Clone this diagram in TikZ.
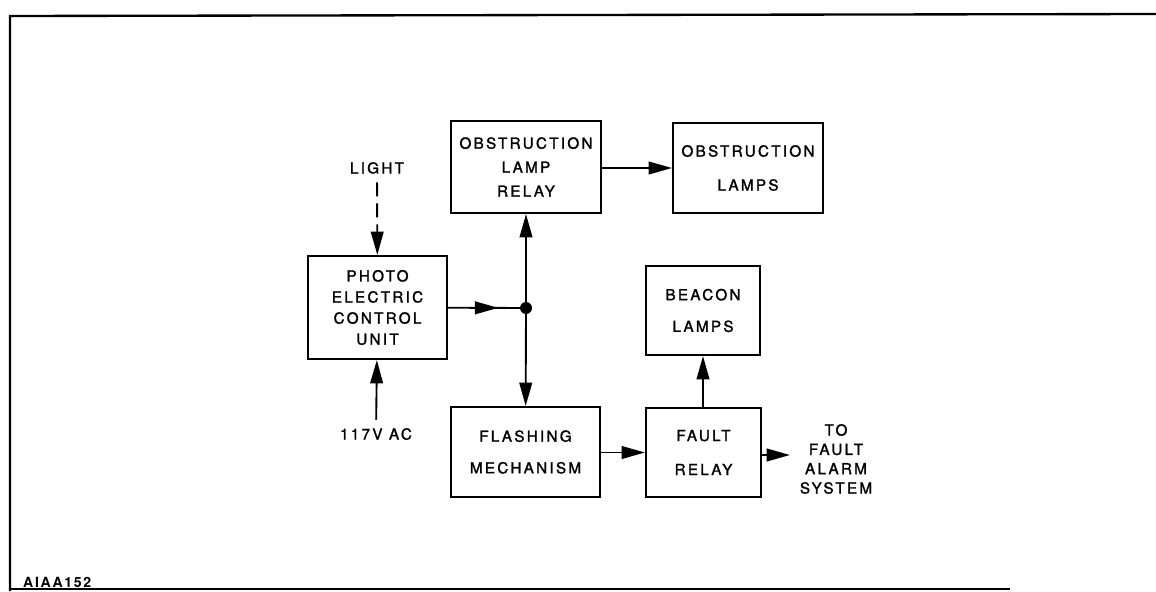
\documentclass[tikz,border=0pt]{standalone}
\usepackage{fontspec}
\usepackage{tikz}
\usetikzlibrary{arrows.meta,decorations.markings}
\newfontfamily\lettering[LetterSpace=15,FakeBold=1.6]{TeX Gyre Heros}
\newfontfamily\drawingno[LetterSpace=12]{TeX Gyre Heros}

\begin{document}
\begin{tikzpicture}[x=0.03cm,y=-0.03cm]
    \tikzset{
      block/.style={draw,line width=1.8pt,inner sep=0pt,align=center,font=\lettering\fontsize{13}{#1}\selectfont},
      plaintext/.style={inner sep=1pt,align=center,font=\lettering\fontsize{13}{16.5}\selectfont},
      dot/.style={circle,fill,inner sep=0pt,minimum size=3.6mm},
      arrow/.style={-{Triangle[length=7mm,width=3.8mm]},line width=1.6pt},
      midarrow/.style={line width=1.6pt,postaction={decorate},decoration={markings,mark=at position #1 with {\arrow{Triangle[length=7mm,width=3.8mm]}}}},
      frame/.style={line width=2pt}
    }
    \useasboundingbox (0,0) rectangle (1156,591);
    \draw[frame] (1156,14) -- (10,16) -- (10,591);
    \draw[frame] (10,589) -- (1010,589);
    \node[block=18pt,minimum width=4.17cm,minimum height=3.09cm] (pec) at (377.5,307.5) {PHOTO\\ELECTRIC\\CONTROL\\UNIT};
    \node[block=20.5pt,minimum width=4.5cm,minimum height=2.76cm] (olr) at (526,167) {OBSTRUCTION\\LAMP\\RELAY};
    \node[block=29pt,minimum width=4.5cm,minimum height=2.7cm] (olamps) at (748,168) {OBSTRUCTION\\LAMPS};
    \node[block=27pt,minimum width=3.42cm,minimum height=2.67cm] (beacon) at (703,310.5) {BEACON\\LAMPS};
    \node[block=27pt,minimum width=4.47cm,minimum height=2.7cm] (flash) at (525.5,452) {FLASHING\\MECHANISM};
    \node[block=29pt,minimum width=3.45cm,minimum height=2.67cm] (fault) at (703.5,452.5) {FAULT\\RELAY};
    \node[dot] (junc) at (526,308) {};
    \node[plaintext] (light) at (377,168) {LIGHT};
    \node[plaintext] (ac) at (376,434) {117V AC};
    \node[plaintext] (alarm) at (836,459) {TO\\FAULT\\ALARM\\SYSTEM};
    \coordinate (alarmin) at (790,455);
    \node[anchor=base west,inner sep=0pt,font=\drawingno\fontsize{12}{12}\selectfont\bfseries] (figno) at (23,587) {AIAA152};
    \draw[arrow,dash pattern=on 12pt off 6pt,shorten <=6pt] (light) -- (pec);
    \draw[arrow,shorten <=6pt] (ac) -- (pec);
    \draw[midarrow=0.7] (pec) -- (junc);
    \draw[arrow] (junc) -- (olr);
    \draw[arrow] (junc) -- (flash);
    \draw[arrow] (olr.east |- olamps.west) -- (olamps.west);
    \draw[arrow] (flash.east |- fault.west) -- (fault.west);
    \draw[arrow] (fault.north -| beacon.south) -- (beacon.south);
    \draw[arrow] (fault.east |- alarmin) -- (alarmin);
  \end{tikzpicture}
\end{document}
